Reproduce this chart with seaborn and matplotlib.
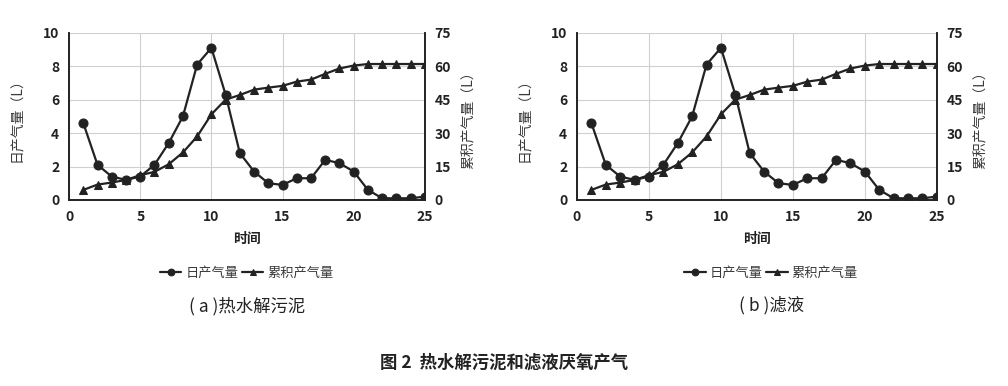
import matplotlib
matplotlib.use("Agg")
import matplotlib.pyplot as plt
import seaborn as sns
import pandas as pd

# data (both panels show the same curves)
days = list(range(1, 26))
daily_gas = [4.6, 2.1, 1.4, 1.2, 1.4, 2.1, 3.4, 5.0, 8.1, 9.1, 6.3, 2.8, 1.7,
             1.0, 0.9, 1.3, 1.3, 2.4, 2.2, 1.7, 0.6, 0.1, 0.1, 0.1, 0.2]
cum_gas = [4.5, 6.9, 7.8, 9.0, 11.1, 12.6, 16.0, 21.3, 28.5, 38.4, 45.0, 47.1,
           49.5, 50.4, 51.2, 53.1, 54.0, 56.6, 59.0, 60.3, 61.0, 61.0, 61.0,
           61.0, 61.0]
panel_captions = ["( a )热水解污泥", "( b )滤液"]
x_ticks = [0, 5, 10, 15, 20, 25]
left_ticks = [0, 2, 4, 6, 8, 10]
right_ticks = [0, 15, 30, 45, 60, 75]
fig_title = "图 2  热水解污泥和滤液厌氧产气"

sns.set_theme(style="whitegrid")
plt.rcParams['font.family'] = ['Noto Sans CJK SC', 'DejaVu Sans']

df = pd.DataFrame({'时间': days, '日产气量': daily_gas, '累积产气量': cum_gas})
ink = '#222222'
soft = '#3a3a3a'

fig = plt.figure(figsize=(10.08, 3.86), dpi=100)
axes_pos = [[0.0685, 0.482, 0.353, 0.433], [0.5724, 0.482, 0.357, 0.433]]
legend_x = [0.245, 0.765]

for i, pos in enumerate(axes_pos):
    ax = fig.add_axes(pos)
    ax2 = ax.twinx()

    sns.lineplot(data=df, x='时间', y='日产气量', ax=ax, color=ink, lw=1.6,
                 marker='o', markersize=6.5, markeredgecolor=ink, label='日产气量',
                 legend=False)
    sns.lineplot(data=df, x='时间', y='累积产气量', ax=ax2, color=ink, lw=1.6,
                 marker='^', markersize=5.5, markeredgecolor=ink, label='累积产气量',
                 legend=False)

    ax.set_xlim(0, 25)
    ax.set_ylim(0, 10)
    ax2.set_ylim(0, 75)
    ax.set_xticks(x_ticks)
    ax.set_yticks(left_ticks)
    ax2.set_yticks(right_ticks)
    ax2.grid(False)
    ax.grid(True, color='#d0d0d0', lw=0.8)

    for a in (ax, ax2):
        for side in ['left', 'right', 'bottom']:
            a.spines[side].set_color(ink)
            a.spines[side].set_linewidth(1.2)
        a.spines['top'].set_visible(False)
        a.tick_params(axis='both', labelsize=10, colors=ink, length=0, pad=7)
        for lbl in a.get_xticklabels() + a.get_yticklabels():
            lbl.set_fontweight('bold')
    if i == 1:
        ax.get_yticklabels()[-1].set_fontstyle('italic')

    ax.set_xlabel('时间', fontsize=10, color=ink, labelpad=6, fontweight='bold')
    ax.set_ylabel('日产气量（L）', fontsize=10, color=soft, labelpad=14)
    ax2.set_ylabel('累积产气量（L）', fontsize=10, color=soft, labelpad=8)

    h1, l1 = ax.get_legend_handles_labels()
    h2, l2 = ax2.get_legend_handles_labels()
    leg = fig.legend(h1 + h2, l1 + l2, loc='center', ncol=2, frameon=False,
                     bbox_to_anchor=(legend_x[i], 0.293), fontsize=9.5,
                     handlelength=1.6, columnspacing=0.3, handletextpad=0.3,
                     markerscale=0.75)
    for t in leg.get_texts():
        t.set_color(soft)
    fig.text(legend_x[i], 0.208, panel_captions[i], ha='center', va='center',
             fontsize=12.5, color=ink)

fig.text(0.5, 0.062, fig_title, ha='center', va='center', fontsize=12.5,
         fontweight='bold', color=ink)

fig.savefig('out.png', dpi=100, facecolor='white')
